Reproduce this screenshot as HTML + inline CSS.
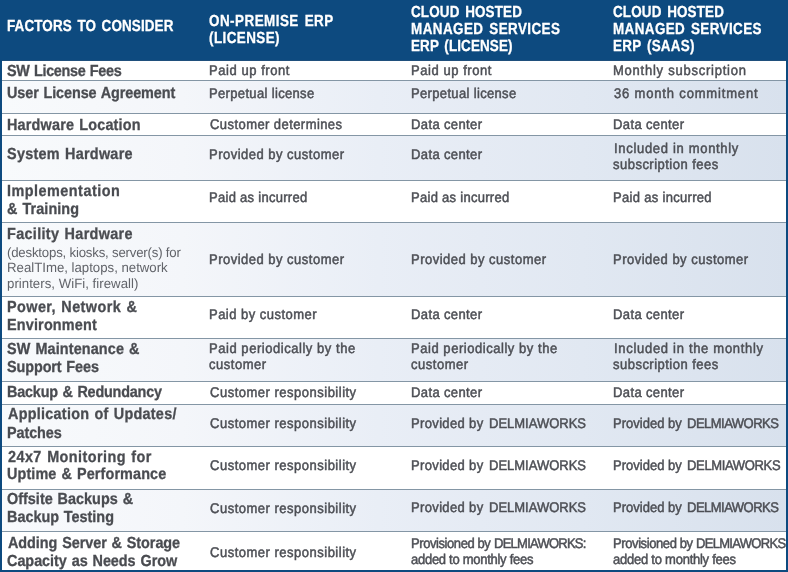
<!DOCTYPE html>
<html lang="en"><head><meta charset="utf-8"><title>ERP deployment comparison</title>
<style>
html,body{margin:0;padding:0;background:#fff;}
#t{position:relative;width:788px;height:572px;overflow:hidden;background:#fff;font-family:"Liberation Sans",sans-serif;}
#t div,#t span{position:absolute;white-space:pre;margin:0;padding:0;}
.hd{left:0;top:0;width:788px;height:60px;background:#0d4a7f;}
.bl{left:0;top:0;width:2px;height:572px;background:#0d4a7f;}
.br{left:786px;top:0;width:2px;height:572px;background:#0d4a7f;}
.bb{left:0;top:570px;width:788px;height:2px;background:#0d4a7f;}
.ln{left:2px;width:784px;height:1px;background:#8496a5;}
.hd2{left:0;top:60px;width:788px;height:1px;background:#1f4f7c;}
.sh{left:2px;width:784px;background:linear-gradient(to right,#f8fafc 0%,#f4f6fa 23%,#e9eef6 48%,#e1e8f2 74%,#d8e1ed 100%);}
.h{font-weight:700;color:#fff;word-spacing:2px;transform:skewX(0.05deg) scaleX(0.84);transform-origin:0 0;-webkit-text-stroke:0.3px #fff;font-size:16px;line-height:20px;height:20px;}
.b{font-weight:700;color:#4a4c51;word-spacing:1px;transform:skewX(0.05deg) scaleX(0.9);transform-origin:0 0;-webkit-text-stroke:0.3px #4a4c51;font-size:16px;line-height:20px;height:20px;}
.r{font-weight:400;color:#4d4f55;transform:skewX(0.05deg) scaleX(0.93);transform-origin:0 0;-webkit-text-stroke:0.5px #4d4f55;font-size:14px;line-height:20px;height:20px;}
.s{font-weight:400;color:#62646a;transform:skewX(0.05deg) scaleX(0.98);transform-origin:0 0;font-size:13.5px;line-height:20px;height:20px;}
</style></head><body>
<div id="t">
<div class="hd"></div><div class="hd2"></div>
<div class="sh" style="top:81px;height:32px"></div>
<div class="sh" style="top:136px;height:44px"></div>
<div class="sh" style="top:223px;height:73px"></div>
<div class="sh" style="top:339px;height:42px"></div>
<div class="sh" style="top:405px;height:41px"></div>
<div class="sh" style="top:490px;height:41px"></div>
<div class="ln" style="top:80px"></div>
<div class="ln" style="top:113px"></div>
<div class="ln" style="top:135px"></div>
<div class="ln" style="top:180px"></div>
<div class="ln" style="top:222px"></div>
<div class="ln" style="top:296px"></div>
<div class="ln" style="top:338px"></div>
<div class="ln" style="top:381px"></div>
<div class="ln" style="top:404px"></div>
<div class="ln" style="top:446px"></div>
<div class="ln" style="top:489px"></div>
<div class="ln" style="top:531px"></div>
<span class="h" style="left:7.40px;top:15.8px;letter-spacing:0.147px">FACTORS TO CONSIDER</span>
<span class="h" style="left:209.40px;top:11.0px;letter-spacing:0.552px">ON-PREMISE ERP</span>
<span class="h" style="left:209.40px;top:28.0px;letter-spacing:0.491px">(LICENSE)</span>
<span class="h" style="left:411.20px;top:1.9px;letter-spacing:0.185px">CLOUD HOSTED</span>
<span class="h" style="left:411.20px;top:19.1px;letter-spacing:0.503px">MANAGED SERVICES</span>
<span class="h" style="left:411.20px;top:36.1px;letter-spacing:0.143px">ERP (LICENSE)</span>
<span class="h" style="left:613.20px;top:1.9px;letter-spacing:0.185px">CLOUD HOSTED</span>
<span class="h" style="left:613.20px;top:19.1px;letter-spacing:0.465px">MANAGED SERVICES</span>
<span class="h" style="left:613.20px;top:36.1px;letter-spacing:0.319px">ERP (SAAS)</span>
<span class="b" style="left:6.80px;top:60.6px;letter-spacing:-0.383px">SW License Fees</span>
<span class="b" style="left:6.80px;top:83.2px;letter-spacing:-0.102px">User License Agreement</span>
<span class="b" style="left:6.80px;top:115.4px;letter-spacing:0.210px">Hardware Location</span>
<span class="b" style="left:6.80px;top:144.4px;letter-spacing:0.297px">System Hardware</span>
<span class="b" style="left:6.80px;top:180.5px;letter-spacing:0.538px">Implementation</span>
<span class="b" style="left:6.80px;top:198.6px;letter-spacing:0.083px">&amp; Training</span>
<span class="b" style="left:6.80px;top:223.7px;letter-spacing:0.373px">Facility Hardware</span>
<span class="b" style="left:6.80px;top:296.6px;letter-spacing:0.478px">Power, Network &amp;</span>
<span class="b" style="left:6.80px;top:315.1px;letter-spacing:0.189px">Environment</span>
<span class="b" style="left:6.80px;top:338.7px;letter-spacing:0.134px">SW Maintenance &amp;</span>
<span class="b" style="left:6.80px;top:356.9px;letter-spacing:-0.102px">Support Fees</span>
<span class="b" style="left:6.80px;top:382.1px;letter-spacing:-0.225px">Backup &amp; Redundancy</span>
<span class="b" style="left:7.60px;top:404.4px;letter-spacing:0.293px">Application of Updates/</span>
<span class="b" style="left:6.80px;top:423.1px;letter-spacing:-0.108px">Patches</span>
<span class="b" style="left:7.66px;top:446.6px;letter-spacing:0.485px">24x7 Monitoring for</span>
<span class="b" style="left:6.80px;top:464.3px;letter-spacing:0.125px">Uptime &amp; Performance</span>
<span class="b" style="left:6.80px;top:489.2px;letter-spacing:0.014px">Offsite Backups &amp;</span>
<span class="b" style="left:6.80px;top:507.0px;letter-spacing:-0.010px">Backup Testing</span>
<span class="b" style="left:7.60px;top:533.1px;letter-spacing:-0.053px">Adding Server &amp; Storage</span>
<span class="b" style="left:6.80px;top:550.8px;letter-spacing:-0.032px">Capacity as Needs Grow</span>
<span class="s" style="left:6.80px;top:242.5px;letter-spacing:-0.206px">(desktops, kiosks, server(s) for</span>
<span class="s" style="left:6.52px;top:258.4px;letter-spacing:-0.013px">RealTIme, laptops, network</span>
<span class="s" style="left:6.80px;top:274.4px;letter-spacing:0.021px">printers, WiFi, firewall)</span>
<span class="r" style="left:209.36px;top:60.1px;letter-spacing:0.585px">Paid up front</span>
<span class="r" style="left:209.36px;top:83.0px;letter-spacing:0.357px">Perpetual license</span>
<span class="r" style="left:209.60px;top:114.2px;letter-spacing:0.452px">Customer determines</span>
<span class="r" style="left:209.36px;top:143.9px;letter-spacing:0.514px">Provided by customer</span>
<span class="r" style="left:209.36px;top:186.7px;letter-spacing:0.297px">Paid as incurred</span>
<span class="r" style="left:209.36px;top:248.9px;letter-spacing:0.514px">Provided by customer</span>
<span class="r" style="left:209.36px;top:303.7px;letter-spacing:0.498px">Paid by customer</span>
<span class="r" style="left:209.36px;top:338.2px;letter-spacing:0.574px">Paid periodically by the</span>
<span class="r" style="left:209.45px;top:354.2px;letter-spacing:0.541px">customer</span>
<span class="r" style="left:209.60px;top:381.9px;letter-spacing:0.528px">Customer responsibility</span>
<span class="r" style="left:209.60px;top:413.1px;letter-spacing:0.528px">Customer responsibility</span>
<span class="r" style="left:209.60px;top:455.2px;letter-spacing:0.528px">Customer responsibility</span>
<span class="r" style="left:209.60px;top:498.1px;letter-spacing:0.528px">Customer responsibility</span>
<span class="r" style="left:209.60px;top:542.3px;letter-spacing:0.528px">Customer responsibility</span>
<span class="r" style="left:411.16px;top:60.1px;letter-spacing:0.585px">Paid up front</span>
<span class="r" style="left:411.16px;top:83.0px;letter-spacing:0.357px">Perpetual license</span>
<span class="r" style="left:411.16px;top:114.2px;letter-spacing:0.400px">Data center</span>
<span class="r" style="left:411.16px;top:143.9px;letter-spacing:0.400px">Data center</span>
<span class="r" style="left:411.16px;top:186.7px;letter-spacing:0.297px">Paid as incurred</span>
<span class="r" style="left:411.16px;top:248.9px;letter-spacing:0.514px">Provided by customer</span>
<span class="r" style="left:411.16px;top:303.7px;letter-spacing:0.400px">Data center</span>
<span class="r" style="left:411.16px;top:338.2px;letter-spacing:0.574px">Paid periodically by the</span>
<span class="r" style="left:411.25px;top:354.2px;letter-spacing:0.541px">customer</span>
<span class="r" style="left:411.16px;top:381.9px;letter-spacing:0.400px">Data center</span>
<span class="r" style="left:411.16px;top:413.1px;letter-spacing:0.363px">Provided by</span>
<span class="r" style="left:488.56px;top:413.1px;letter-spacing:-0.020px">DELMIAWORKS</span>
<span class="r" style="left:411.16px;top:454.7px;letter-spacing:0.363px">Provided by</span>
<span class="r" style="left:488.56px;top:454.7px;letter-spacing:-0.020px">DELMIAWORKS</span>
<span class="r" style="left:411.16px;top:496.6px;letter-spacing:0.363px">Provided by</span>
<span class="r" style="left:488.56px;top:496.6px;letter-spacing:-0.020px">DELMIAWORKS</span>
<span class="r" style="left:411.16px;top:533.1px;letter-spacing:-0.464px">Provisioned by</span>
<span class="r" style="left:494.16px;top:533.1px;letter-spacing:-0.823px">DELMIAWORKS:</span>
<span class="r" style="left:411.46px;top:549.1px;letter-spacing:-0.308px">added to monthly fees</span>
<span class="r" style="left:613.36px;top:60.1px;letter-spacing:0.805px">Monthly subscription</span>
<span class="r" style="left:613.60px;top:82.6px;letter-spacing:0.883px">36 month commitment</span>
<span class="r" style="left:613.36px;top:114.2px;letter-spacing:0.400px">Data center</span>
<span class="r" style="left:613.54px;top:138.3px;letter-spacing:0.727px">Included in monthly</span>
<span class="r" style="left:613.36px;top:153.7px;letter-spacing:0.505px">subscription fees</span>
<span class="r" style="left:613.36px;top:186.7px;letter-spacing:0.320px">Paid as incurred</span>
<span class="r" style="left:613.36px;top:248.9px;letter-spacing:0.522px">Provided by customer</span>
<span class="r" style="left:613.36px;top:303.7px;letter-spacing:0.400px">Data center</span>
<span class="r" style="left:613.54px;top:338.2px;letter-spacing:0.741px">Included in the monthly</span>
<span class="r" style="left:613.36px;top:354.2px;letter-spacing:0.505px">subscription fees</span>
<span class="r" style="left:613.36px;top:381.9px;letter-spacing:0.400px">Data center</span>
<span class="r" style="left:613.36px;top:413.1px;letter-spacing:0.006px">Provided by</span>
<span class="r" style="left:686.56px;top:413.1px;letter-spacing:-0.564px">DELMIAWORKS</span>
<span class="r" style="left:613.36px;top:454.7px;letter-spacing:0.006px">Provided by</span>
<span class="r" style="left:686.56px;top:454.7px;letter-spacing:-0.385px">DELMIAWORKS</span>
<span class="r" style="left:613.36px;top:496.6px;letter-spacing:0.006px">Provided by</span>
<span class="r" style="left:686.56px;top:496.6px;letter-spacing:-0.564px">DELMIAWORKS</span>
<span class="r" style="left:613.36px;top:533.1px;letter-spacing:-0.442px">Provisioned by</span>
<span class="r" style="left:696.36px;top:533.1px;letter-spacing:-0.760px">DELMIAWORKS:</span>
<span class="r" style="left:613.06px;top:549.1px;letter-spacing:-0.270px">added to monthly fees</span>
<div class="bl"></div><div class="br"></div><div class="bb"></div>
</div>
</body></html>
